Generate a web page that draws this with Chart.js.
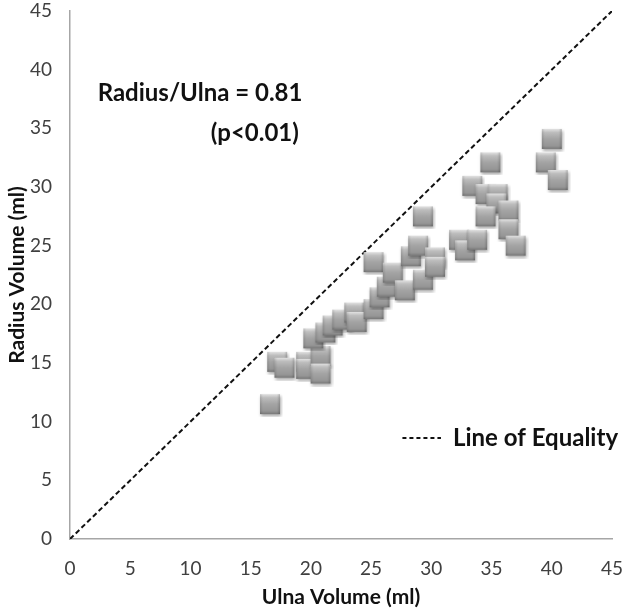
<!DOCTYPE html>
<html>
<head>
<meta charset="utf-8">
<script src="https://cdn.jsdelivr.net/npm/chart.js@4.4.1/dist/chart.umd.min.js"></script>
<style>
  html, body { margin: 0; padding: 0; background: #ffffff; }
  #wrap { width: 631px; height: 615px; position: relative; }
</style>
</head>
<body>
<div id="wrap"><canvas id="c" width="631" height="615"></canvas></div>
<script>
// ---- Data ----
const ulnaVolume = [16.6, 17.2, 17.8, 19.6, 19.6, 20.8, 20.8, 20.2, 21.2, 21.8, 22.6, 23.6, 23.8, 25.2, 25.7, 26.3, 25.2, 26.8, 27.8, 28.3, 28.9, 29.3, 29.3, 30.3, 30.3, 32.3, 32.8, 33.8, 33.4, 34.9, 34.5, 35.5, 35.4, 34.5, 36.4, 36.4, 37.0, 40.0, 39.5, 40.5];
const radiusVolume = [11.5, 15.1, 14.6, 15.1, 14.5, 15.6, 14.1, 17.1, 17.6, 18.2, 18.7, 19.3, 18.5, 19.6, 20.6, 21.5, 23.6, 22.7, 21.2, 24.1, 25.0, 22.1, 27.5, 24.0, 23.2, 25.5, 24.6, 25.5, 30.1, 32.1, 29.4, 29.4, 28.6, 27.5, 28.0, 26.4, 25.0, 34.1, 32.1, 30.6];
const equalityX = [0, 45];
const equalityY = [0, 45];
const axisTicks = [0, 5, 10, 15, 20, 25, 30, 35, 40, 45];
const xTitle = 'Ulna Volume (ml)';
const yTitle = 'Radius Volume (ml)';
const ratioText = 'Radius/Ulna = 0.81';
const pText = '(p<0.01)';
const legendText = 'Line of Equality';

// ---- Bevelled square marker ----
function makeMarker() {
  const s = 20, pad = 3;
  const cv = document.createElement('canvas');
  cv.width = s + pad * 2; cv.height = s + pad * 2;
  const g = cv.getContext('2d');
  g.save();
  g.shadowColor = 'rgba(0,0,0,0.35)';
  g.shadowBlur = 3; g.shadowOffsetX = 1; g.shadowOffsetY = 2;
  g.fillStyle = '#8f8f8f';
  g.fillRect(pad, pad, s, s);
  g.restore();
  const lg = g.createLinearGradient(0, pad, 0, pad + s);
  lg.addColorStop(0, '#e2e2e2');
  lg.addColorStop(0.18, '#bdbdbd');
  lg.addColorStop(0.5, '#a4a4a4');
  lg.addColorStop(0.85, '#969696');
  lg.addColorStop(1, '#787878');
  g.fillStyle = lg;
  g.fillRect(pad, pad, s, s);
  const sg = g.createLinearGradient(pad, 0, pad + s, 0);
  sg.addColorStop(0, 'rgba(0,0,0,0.12)');
  sg.addColorStop(0.15, 'rgba(0,0,0,0)');
  sg.addColorStop(0.85, 'rgba(0,0,0,0)');
  sg.addColorStop(1, 'rgba(0,0,0,0.18)');
  g.fillStyle = sg;
  g.fillRect(pad, pad, s, s);
  return cv;
}
const marker = makeMarker();

const scatterPoints = ulnaVolume.map((u, i) => ({ x: u, y: radiusVolume[i] }));
const linePoints = equalityX.map((u, i) => ({ x: u, y: equalityY[i] }));

const annotationPlugin = {
  id: 'annotations',
  afterDatasetsDraw(chart) {
    const ctx = chart.ctx;
    const xs = chart.scales.x, ys = chart.scales.y;
    ctx.save();
    ctx.fillStyle = '#111111';
    ctx.font = 'bold 24px Lato';
    ctx.textBaseline = 'middle';
    ctx.textAlign = 'left';
    ctx.fillText(ratioText, xs.getPixelForValue(2.3), ys.getPixelForValue(37.95));
    ctx.textAlign = 'right';
    ctx.fillText(pText, xs.getPixelForValue(19.0), ys.getPixelForValue(34.55));
    // legend
    const ly = ys.getPixelForValue(8.6);
    ctx.strokeStyle = '#111111';
    ctx.lineWidth = 2;
    ctx.setLineDash([4, 3]);
    ctx.beginPath();
    ctx.moveTo(xs.getPixelForValue(27.6), ly);
    ctx.lineTo(xs.getPixelForValue(30.8), ly);
    ctx.stroke();
    ctx.setLineDash([]);
    ctx.textAlign = 'left';
    ctx.fillText(legendText, xs.getPixelForValue(31.8), ly);
    ctx.restore();
  }
};

new Chart(document.getElementById('c'), {
  type: 'scatter',
  data: {
    datasets: [
      {
        type: 'line',
        label: legendText,
        data: linePoints,
        borderColor: '#111111',
        borderWidth: 2,
        borderDash: [5, 3],
        pointRadius: 0,
        fill: false,
        order: 2
      },
      {
        label: 'Volumes',
        data: scatterPoints,
        pointStyle: marker,
        pointRadius: 10,
        pointHoverRadius: 10,
        order: 1
      }
    ]
  },
  options: {
    responsive: false,
    animation: false,
    layout: { padding: { top: 6, right: 19, left: 0, bottom: 0 } },
    plugins: {
      legend: { display: false },
      tooltip: { enabled: false }
    },
    scales: {
      x: {
        type: 'linear',
        min: 0, max: 45,
        afterBuildTicks: (s) => { s.ticks = axisTicks.map(v => ({ value: v })); },
        grid: { display: false, drawTicks: false },
        border: { display: true, color: '#a6a6a6', width: 1.5 },
        ticks: { color: '#404040', font: { family: 'Lato', size: 19 }, padding: 18, maxRotation: 0 },
        title: { display: true, text: xTitle, color: '#111111', font: { family: 'Lato', size: 21, weight: 'bold' }, padding: { top: 4, bottom: 5 } },
        afterFit: (s) => { s.height = 76; s.paddingLeft = 0; s.paddingRight = 0; }
      },
      y: {
        type: 'linear',
        min: 0, max: 45,
        afterBuildTicks: (s) => { s.ticks = axisTicks.map(v => ({ value: v })); },
        grid: { display: false, drawTicks: false },
        border: { display: true, color: '#a6a6a6', width: 1.5 },
        ticks: { color: '#404040', font: { family: 'Lato', size: 19 }, padding: 18 },
        title: { display: true, text: yTitle, color: '#111111', font: { family: 'Lato', size: 21, weight: 'bold' }, padding: { top: 5, bottom: 4 } },
        afterFit: (s) => { s.width = 70; s.paddingTop = 0; s.paddingBottom = 0; }
      }
    }
  },
  plugins: [annotationPlugin]
});
</script>
</body>
</html>
